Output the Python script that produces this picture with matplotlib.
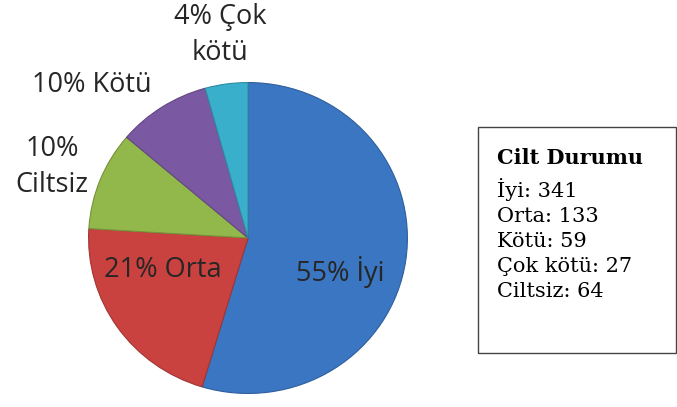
import numpy as np
import matplotlib.pyplot as plt
import matplotlib.colors as mcolors

# Cilt durumu verileri (pasta dilim sırası)
kategoriler = ["İyi", "Orta", "Ciltsiz", "Kötü", "Çok kötü"]
degerler = [341, 133, 64, 59, 27]
yuzdeler = [55, 21, 10, 10, 4]   # grafikte yazan yüzdeler
renkler = ["#3B76C2", "#C9423F", "#92B74A", "#7A58A2", "#3AAFCB"]

# kutudaki liste sırası
kutu_sira = ["İyi", "Orta", "Kötü", "Çok kötü", "Ciltsiz"]

W, H = 677, 407
fig = plt.figure(figsize=(W / 100, H / 100), dpi=100)

# pasta ekseni (hafif elips)
cx, cy, rx, ry = 248, 238, 161, 157
ax = fig.add_axes([(cx - rx) / W, (H - cy - ry) / H, 2 * rx / W, 2 * ry / H])
kenar = [tuple(0.8 * np.array(mcolors.to_rgb(c))) for c in renkler]
wedges, _ = ax.pie(degerler, colors=renkler, startangle=90, counterclock=False,
                   wedgeprops=dict(linewidth=0.8))
for w, e in zip(wedges, kenar):
    w.set_edgecolor(e)
ax.set_aspect("auto")
ax.set_xlim(-1.01, 1.01)
ax.set_ylim(-1.01, 1.01)
ax.axis("off")

yuzde = dict(zip(kategoriler, yuzdeler))

# etiketler (piksel konumları)
etiketler = {
    "İyi": (340, 272, f"{yuzde['İyi']}% İyi"),
    "Orta": (163, 270, f"{yuzde['Orta']}% Orta"),
    "Ciltsiz": (52, 167, f"{yuzde['Ciltsiz']}%\nCiltsiz"),
    "Kötü": (92, 85, f"{yuzde['Kötü']}% Kötü"),
    "Çok kötü": (220, 35, f"{yuzde['Çok kötü']}% Çok\nkötü"),
}
for k, (x, y, t) in etiketler.items():
    fig.text(x / W, 1 - y / H, t, ha="center", va="center", fontsize=19.5,
             family="Open Sans", color="#262626", linespacing=1.35)

# sağdaki kutu
kx0, ky0, kx1, ky1 = 478, 127, 676, 353
kutu = plt.Rectangle((kx0 / W, 1 - ky1 / H), (kx1 - kx0) / W, (ky1 - ky0) / H,
                     transform=fig.transFigure, fill=False, edgecolor="#444444",
                     linewidth=1.0)
fig.add_artist(kutu)

fig.text(497 / W, 1 - 164 / H, "Cilt Durumu", fontsize=15, family="DejaVu Serif",
         weight="bold", va="baseline", ha="left", color="black")
sayilar = dict(zip(kategoriler, degerler))
for i, k in enumerate(kutu_sira):
    fig.text(497 / W, 1 - (197 + i * 25) / H, f"{k}: {sayilar[k]}", fontsize=15,
             family="DejaVu Serif", va="baseline", ha="left", color="black")

fig.savefig("out.png", dpi=100)
